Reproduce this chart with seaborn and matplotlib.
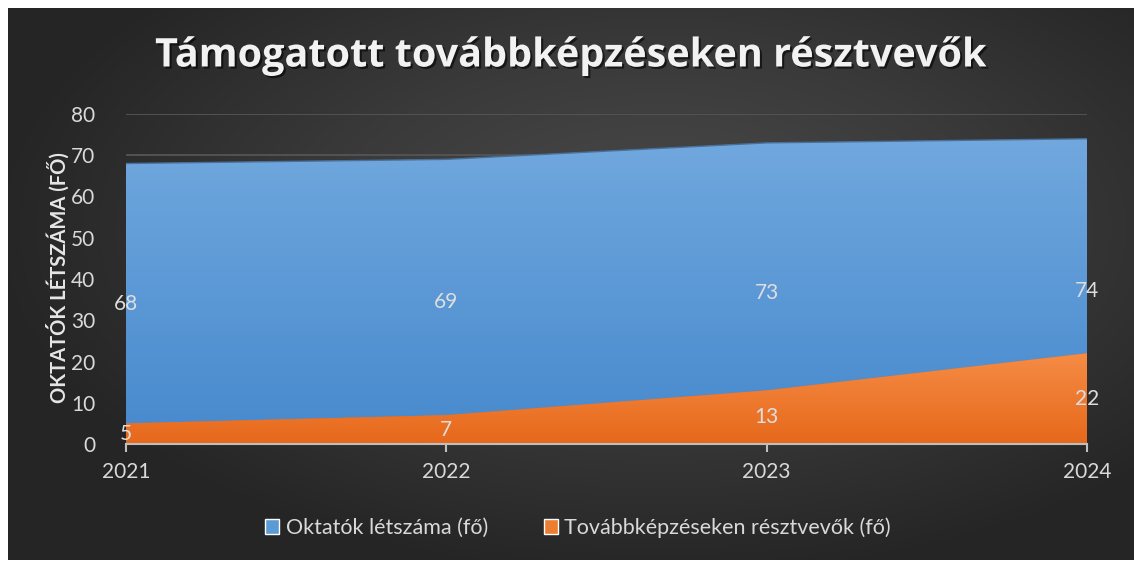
import numpy as np
import pandas as pd
import matplotlib.pyplot as plt
import matplotlib.patheffects as pe
from matplotlib.colors import LinearSegmentedColormap
from matplotlib.patches import Patch
import seaborn as sns

# chart data
years = [2021, 2022, 2023, 2024]
oktatok = [68, 69, 73, 74]
resztvevok = [5, 7, 13, 22]
series_names = ['Oktatók létszáma (fő)', 'Továbbképzéseken résztvevők (fő)']
title = 'Támogatott továbbképzéseken résztvevők'
ylabel = 'OKTATÓK LÉTSZÁMA (FŐ)'

sns.set_theme(style='dark')
plt.rcParams['font.family'] = ['Lato', 'DejaVu Sans']

W, H = 1134, 563
fig = plt.figure(figsize=(W / 100, H / 100), dpi=100)
fig.patch.set_facecolor('white')

# dark radial background
bg = fig.add_axes([8 / W, 3 / H, 1126 / W, 552 / H])
yy, xx = np.mgrid[0:1:300j, 0:1:600j]
r = np.sqrt(((xx - 0.58) / 0.75) ** 2 + ((yy - 0.4) / 0.8) ** 2)
bg_cmap = LinearSegmentedColormap.from_list('bg', ['#4b4b4b', '#3a3a3a', '#252525'])
bg.imshow(r, cmap=bg_cmap, aspect='auto', vmin=0, vmax=0.8)
bg.axis('off')

ax = fig.add_axes([126 / W, 119 / H, 961 / W, 330 / H])
ax.patch.set_alpha(0)

df = pd.DataFrame({'ev': years, 'oktatok': oktatok, 'resztvevok': resztvevok})


def grad_area(ax, x, y, c_top, c_bot, z):
    poly = ax.fill_between(x, 0, y, color=c_bot, lw=0, zorder=z,
                           path_effects=[pe.SimplePatchShadow(offset=(2, -2), alpha=0.6), pe.Normal()])
    cmap = LinearSegmentedColormap.from_list('g', [c_bot, c_top])
    grad = np.linspace(0, 1, 256).reshape(-1, 1)
    im = ax.imshow(grad, cmap=cmap, aspect='auto', origin='lower',
                   extent=[x[0], x[-1], 0, max(y)], zorder=z + 0.1)
    im.set_clip_path(poly.get_paths()[0], ax.transData)


grad_area(ax, years, oktatok, '#71a8de', '#4689cd', 1)
sns.lineplot(data=df, x='ev', y='oktatok', ax=ax, color='#4a6f99', lw=1, zorder=1.2)
grad_area(ax, years, resztvevok, '#f68c45', '#e6681b', 2)

for x, v in zip(years, oktatok):
    ax.text(x, v / 2, str(v), ha='center', va='center', color='#dedede', fontsize=15, zorder=5)
for x, v in zip(years, resztvevok):
    ax.text(x, v / 2, str(v), ha='center', va='center', color='#dedede', fontsize=15, zorder=5)

ax.set_xlim(years[0], years[-1])
ax.set_ylim(0, 80)
ax.set_xticks(years)
ax.set_yticks(range(0, 90, 10))
ax.set_xlabel('')
ax.set_ylabel('')
ax.set_axisbelow(True)
ax.yaxis.grid(True, color='#555555', lw=1.3)
ax.xaxis.grid(False)
for s in ['left', 'right', 'top']:
    ax.spines[s].set_visible(False)
ax.spines['bottom'].set_color('#bfbfbf')
ax.spines['bottom'].set_linewidth(1.5)
ax.spines['bottom'].set_zorder(4)
ax.tick_params(axis='x', bottom=True, direction='out', length=6, width=1.5, color='#bfbfbf',
               labelcolor='#d9d9d9', labelsize=15, pad=7)
ax.tick_params(axis='y', left=False, labelcolor='#d9d9d9', labelsize=15, pad=16)

fig.text(58 / W, 1 - 278 / H, ylabel, rotation=90, ha='center', va='center',
         fontsize=14.5, fontweight='bold', color='#e6e6e6')

fig.text(571 / W, 1 - 56 / H, title, ha='center', va='center', fontsize=28.5,
         fontweight='bold', color='#f2f2f2', family=['Open Sans', 'DejaVu Sans'],
         path_effects=[pe.withSimplePatchShadow(offset=(1.5, -1.5), shadow_rgbFace='black', alpha=0.6)])

handles = [Patch(facecolor='#5b9bd5'), Patch(facecolor='#ed7d31')]
fig.legend(handles, series_names, ncol=2, loc='center', bbox_to_anchor=(578 / W, 1 - 528 / H),
           frameon=False, fontsize=15.5, labelcolor='#d9d9d9', handlelength=0.65,
           handleheight=0.7, handletextpad=0.3, columnspacing=2.6)

fig.savefig('out.png', dpi=100, facecolor='white')
